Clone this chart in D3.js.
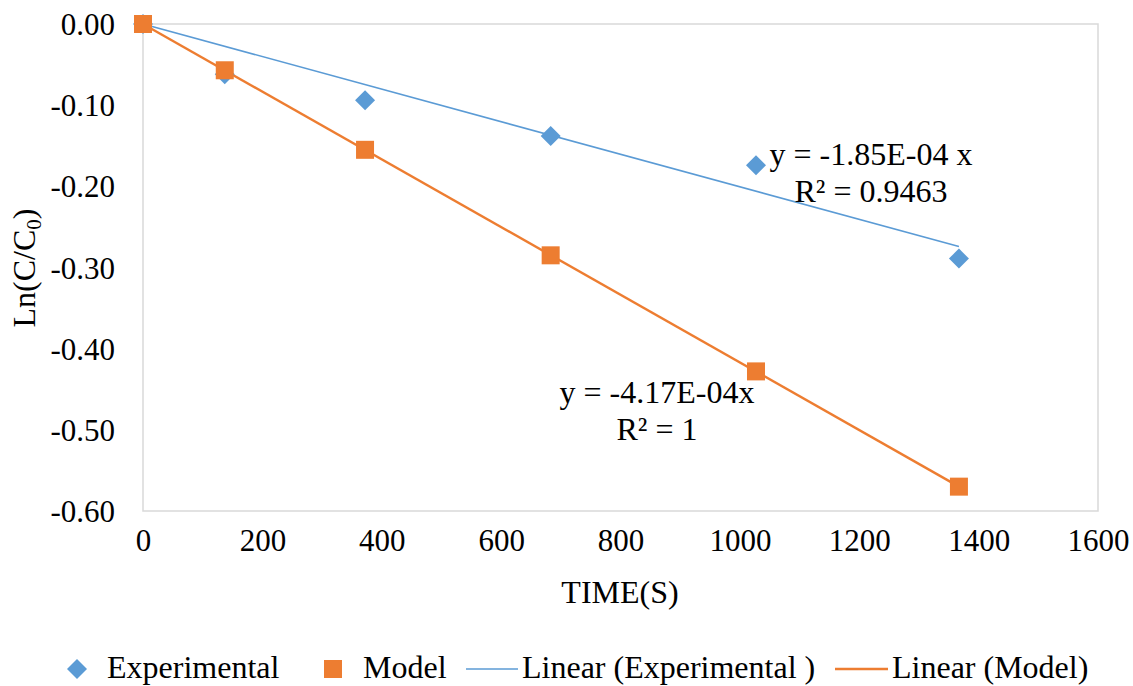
<!DOCTYPE html>
<html>
<head>
<meta charset="utf-8">
<script src="https://cdn.jsdelivr.net/npm/d3@7"></script>
<style>
  body { margin: 0; background: #fff; }
  svg text { font-family: "Liberation Serif", "Times New Roman", serif; fill: #000; }
</style>
</head>
<body>
<svg id="chart" width="1133" height="686"></svg>
<script>
// data
const times = [0, 137, 372, 683, 1027, 1367];
const experimental = [0, -0.062, -0.094, -0.138, -0.174, -0.289];
const model = [0, -0.057, -0.155, -0.285, -0.428, -0.570];
const xTicks = [0, 200, 400, 600, 800, 1000, 1200, 1400, 1600];
const yTicks = [0, -0.1, -0.2, -0.3, -0.4, -0.5, -0.6];
const expLabel = ["y = -1.85E-04 x", "R² = 0.9463"];
const modelLabel = ["y = -4.17E-04x", "R² = 1"];

const blue = "#5b9bd5", orange = "#ed7d31";
const margin = { left: 143, right: 35, top: 24, bottom: 175 };
const W = 1133, H = 686;
const width = W - margin.left - margin.right;
const height = H - margin.top - margin.bottom;
const fs = 32;

const svg = d3.select("#chart");
const chart = svg.append("g")
    .attr("transform", "translate(" + margin.left + "," + margin.top + ")");

const xScale = d3.scaleLinear().domain([0, 1600]).range([0, width]);
const yScale = d3.scaleLinear().domain([-0.6, 0]).range([height, 0]);

// plot border
chart.append("rect")
    .attr("width", width).attr("height", height)
    .attr("fill", "none").attr("stroke", "#d9d9d9").attr("stroke-width", 1.5);

// axes (labels only)
const yFmt = d => d3.format(".2f")(d).replace("−", "-");
const xAxis = chart.append("g")
    .attr("transform", "translate(0," + height + ")")
    .call(d3.axisBottom(xScale).tickValues(xTicks).tickFormat(d3.format("d")).tickSize(0).tickPadding(18));
const yAxis = chart.append("g")
    .call(d3.axisLeft(yScale).tickValues(yTicks).tickFormat(yFmt).tickSize(0).tickPadding(28));
[xAxis, yAxis].forEach(a => {
    a.select(".domain").remove();
    a.selectAll("text").attr("font-size", 31);
});
xAxis.selectAll("text").attr("dy", "0.71em");
yAxis.selectAll("text").attr("dy", "0.34em");

// trend lines through the origin, least squares
function slope(xs, ys) {
    return d3.sum(xs, (x, i) => x * ys[i]) / d3.sum(xs, x => x * x);
}
const xEnd = d3.max(times);
const trends = [
    { k: slope(times, experimental), color: blue, w: 1.6 },
    { k: slope(times, model), color: orange, w: 2.4 }
];
const line = d3.line().x(d => xScale(d[0])).y(d => yScale(d[1]));
trends.forEach(t => {
    chart.append("path")
        .datum([[0, 0], [xEnd, t.k * xEnd]])
        .attr("d", line)
        .attr("fill", "none").attr("stroke", t.color).attr("stroke-width", t.w);
});

// markers
const expPts = times.map((t, i) => [t, experimental[i]]);
const modPts = times.map((t, i) => [t, model[i]]);
chart.selectAll(".exp").data(expPts).join("path")
    .attr("class", "exp")
    .attr("d", d3.symbol(d3.symbolSquare, 200))
    .attr("transform", d => "translate(" + xScale(d[0]) + "," + yScale(d[1]) + ") rotate(45)")
    .attr("fill", blue);
chart.selectAll(".mod").data(modPts).join("rect")
    .attr("class", "mod")
    .attr("x", d => xScale(d[0]) - 9).attr("y", d => yScale(d[1]) - 9)
    .attr("width", 18).attr("height", 18)
    .attr("fill", orange);

// trend labels
function label(lines, cx, y0) {
    const t = svg.append("text").attr("text-anchor", "middle").attr("font-size", fs);
    lines.forEach((s, i) => t.append("tspan").attr("x", cx).attr("y", y0 + i * 37).text(s));
}
label(expLabel, 871, 165);
label(modelLabel, 657, 403);

// axis titles
svg.append("text")
    .attr("x", 620).attr("y", 603)
    .attr("text-anchor", "middle").attr("font-size", fs)
    .text("TIME(S)");
const yt = svg.append("text")
    .attr("transform", "translate(35,268) rotate(-90)")
    .attr("text-anchor", "middle").attr("font-size", fs);
yt.append("tspan").text("Ln(C/C");
yt.append("tspan").attr("font-size", 21).attr("dy", 6).text("0");
yt.append("tspan").attr("dy", -6).text(")");

// legend
const leg = svg.append("g").attr("transform", "translate(0,669)");
leg.append("path").attr("d", d3.symbol(d3.symbolSquare, 200))
    .attr("transform", "translate(77,0) rotate(45)").attr("fill", blue);
leg.append("text").attr("x", 107).attr("y", 9).attr("font-size", fs).text("Experimental");
leg.append("rect").attr("x", 324).attr("y", -9).attr("width", 18).attr("height", 18).attr("fill", orange);
leg.append("text").attr("x", 363).attr("y", 9).attr("font-size", fs).text("Model");
leg.append("line").attr("x1", 466).attr("x2", 518).attr("stroke", blue).attr("stroke-width", 1.6);
leg.append("text").attr("x", 522).attr("y", 9).attr("font-size", fs).text("Linear (Experimental )");
leg.append("line").attr("x1", 835).attr("x2", 888).attr("stroke", orange).attr("stroke-width", 2.4);
leg.append("text").attr("x", 892).attr("y", 9).attr("font-size", fs).text("Linear (Model)");
</script>
</body>
</html>
